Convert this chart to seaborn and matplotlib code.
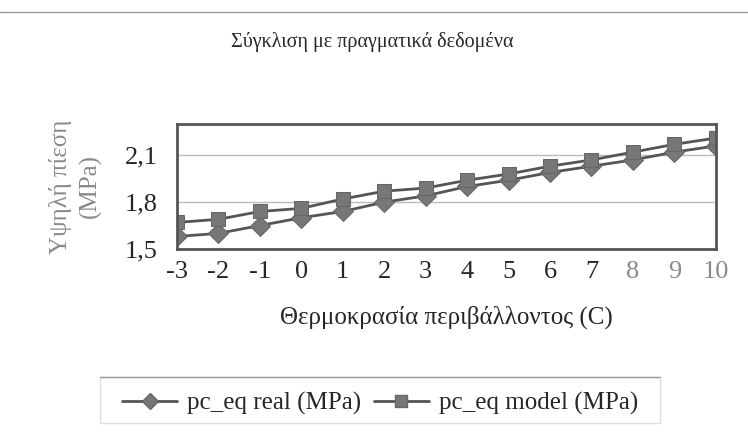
import pandas as pd
import matplotlib
matplotlib.use("Agg")
import matplotlib.pyplot as plt
from matplotlib.lines import Line2D
from matplotlib.patches import Rectangle
import seaborn as sns

# Data
temps = [-3, -2, -1, 0, 1, 2, 3, 4, 5, 6, 7, 8, 9, 10]
pc_real = [1.58, 1.60, 1.65, 1.70, 1.74, 1.80, 1.84, 1.90, 1.94, 1.99, 2.03, 2.07, 2.12, 2.16]
pc_model = [1.67, 1.69, 1.74, 1.76, 1.82, 1.87, 1.89, 1.94, 1.98, 2.03, 2.07, 2.12, 2.17, 2.21]
series_names = ["pc_eq real (MPa)", "pc_eq model (MPa)"]
y_ticks = [1.5, 1.8, 2.1]
y_tick_labels = ["1,5", "1,8", "2,1"]

df = pd.DataFrame({
    "temp": temps * 2,
    "value": pc_real + pc_model,
    "series": [series_names[0]] * len(temps) + [series_names[1]] * len(temps),
})

sns.set_style("white")
plt.rcParams["font.family"] = ["Liberation Serif", "DejaVu Serif"]

fig = plt.figure(figsize=(7.48, 4.41), dpi=100)
ax = fig.add_axes([0.2366, 0.4354, 0.7204, 0.2834])

sns.lineplot(data=df, x="temp", y="value", hue="series", style="series",
             markers={series_names[0]: "D", series_names[1]: "s"},
             dashes=False, palette=["#555555", "#555555"], linewidth=2,
             markersize=10, markerfacecolor="#777777", markeredgecolor="#666666",
             ax=ax, legend=False)

ax.set_xlim(-3, 10)
ax.set_ylim(1.5, 2.3)
ax.set_xticks(temps)
ax.set_xticklabels([str(t) for t in temps])
for lbl in ax.get_xticklabels()[-3:]:
    lbl.set_color("#8a8a8a")
ax.set_yticks(y_ticks)
ax.set_yticklabels(y_tick_labels)
ax.tick_params(axis="both", labelsize=19, length=0)
ax.tick_params(axis="x", pad=9)
ax.tick_params(axis="y", pad=14)
ax.yaxis.grid(True, color="#bbbbbb", linewidth=1)
for s in ax.spines.values():
    s.set_color("#555555")
    s.set_linewidth(2)

ax.set_xlabel("Θερμοκρασία περιβάλλοντος (C)", fontsize=18, labelpad=16)
ax.set_ylabel("Υψηλή πίεση\n(MPa)", fontsize=18, color="#8a8a8a", labelpad=16,
              linespacing=1.4)

fig.text(0.497, 0.905, "Σύγκλιση με πραγματικά δεδομένα", ha="center",
         va="center", fontsize=14.5)

# legend
handles = [
    Line2D([], [], color="#555555", lw=2, marker="D", markersize=8,
           markerfacecolor="#777777", markeredgecolor="#666666"),
    Line2D([], [], color="#555555", lw=2, marker="s", markersize=8,
           markerfacecolor="#777777", markeredgecolor="#666666"),
]
fig.legend(handles, series_names, loc="center", bbox_to_anchor=(0.508, 0.085),
           ncol=2, frameon=False, fontsize=18, handlelength=2.2,
           columnspacing=0.5, handletextpad=0.4)
# legend box: faint sides, clearer top edge
fig.add_artist(Rectangle((0.134, 0.041), 0.748, 0.104, transform=fig.transFigure,
                         fill=False, edgecolor="#dddddd", lw=1))
fig.add_artist(Line2D([0.134, 0.882], [0.145, 0.145], color="#999999", lw=1))

# chart border
fig.add_artist(Line2D([0.0, 1.0], [0.973, 0.973], color="#999999", lw=1))

fig.savefig("out.png", dpi=100)
